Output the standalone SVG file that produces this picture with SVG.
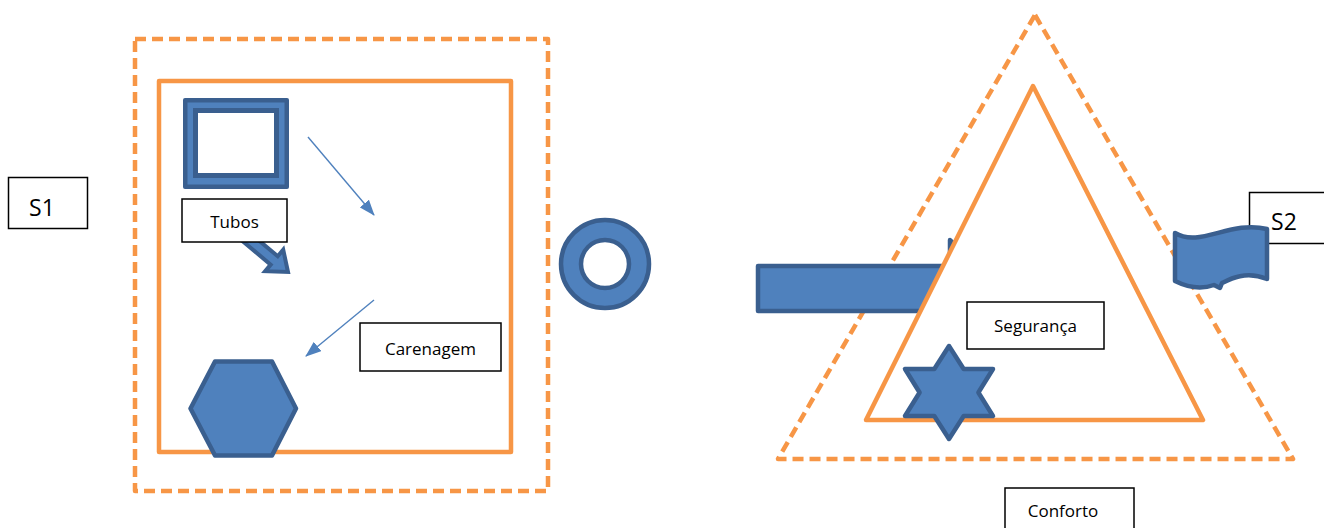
<svg xmlns="http://www.w3.org/2000/svg" width="1324" height="528" viewBox="0 0 1324 528">
<style>
.dash{fill:none;stroke:#F79646;stroke-width:4.5;stroke-dasharray:11 6;stroke-linejoin:round}
.solid{stroke:#F79646;stroke-width:4.5;stroke-linejoin:round}
.blue{fill:#4F81BD;stroke:#3A5F8F;stroke-width:4.5;stroke-linejoin:round}
.lbl{fill:#fff;stroke:#000;stroke-width:1.5}
.t{font-family:"Open Sans","Liberation Sans",sans-serif;font-size:17px;fill:#000;text-anchor:middle}
.big{font-size:23px}
.thin{stroke:#4F81BD;stroke-width:1.4;fill:none}
</style>
<defs>
<marker id="ah" markerUnits="userSpaceOnUse" markerWidth="16" markerHeight="12" refX="15" refY="6" orient="auto">
<path d="M0,0 L16,6 L0,12 Z" fill="#4F81BD"/>
</marker>
</defs>

<g id="S1-area">
<rect class="dash" x="135" y="39" width="413" height="452"/>
<rect class="solid" fill="none" x="159" y="81" width="352" height="371"/>
</g>

<g id="tubos-frame">
<rect x="183" y="98" width="106" height="91" rx="2" fill="#3A5F8F"/>
<rect x="187.5" y="102.5" width="97" height="82" fill="#4F81BD"/>
<rect x="193" y="108" width="86" height="70" fill="#3A5F8F"/>
<rect x="198" y="113" width="76" height="60" fill="#fff"/>
</g>

<g id="tubos-block-arrow">
<polygon transform="translate(288,272) rotate(40)" points="-70,-5.5 -18,-5.5 -18,-14 0,0 -18,14 -18,5.5 -70,5.5" fill="#4F81BD" stroke="#3A5F8F" stroke-width="4" stroke-linejoin="miter"/>
</g>

<g id="tubos">
<rect class="lbl" x="182" y="199" width="105" height="43"/>
<text class="t" x="234.5" y="228">Tubos</text>
</g>

<g id="connectors">
<line class="thin" x1="308" y1="137" x2="374" y2="215" marker-end="url(#ah)"/>
<line class="thin" x1="374" y1="300" x2="306" y2="356" marker-end="url(#ah)"/>
</g>

<g id="carenagem">
<rect class="lbl" x="360" y="323" width="141" height="48"/>
<text class="t" x="430.5" y="355">Carenagem</text>
</g>

<g id="hexagon">
<polygon class="blue" points="190.5,408.5 215,361.5 272,361.5 296,408.5 272,455.5 215,455.5"/>
</g>

<g id="donut">
<path class="blue" fill-rule="evenodd" d="M561,264 a44,44 0 1,0 88,0 a44,44 0 1,0 -88,0 Z M581,264 a24,24 0 1,1 48,0 a24,24 0 1,1 -48,0 Z"/>
</g>

<g id="S1">
<rect class="lbl" x="8.5" y="177.5" width="79" height="51"/>
<text class="t big" x="42" y="216">S1</text>
</g>

<g id="S2-area">
<polygon class="dash" points="1035,15 1293,459 778,459"/>
</g>

<g id="right-block-arrow">
<polygon class="blue" points="758,266 950,266 950,240 1000,288 950,337 950,311 758,311"/>
</g>

<g id="inner-triangle">
<polygon class="solid" fill="#fff" points="1033,86 1203,420 866,420"/>
</g>

<g id="star">
<polygon class="blue" points="949,346 963.7,369 993,369 978.4,392.5 993,416 963.7,416 949,439 934.3,416 905,416 919.6,392.5 905,369 934.3,369"/>
</g>

<g id="seguranca">
<rect class="lbl" x="967" y="302" width="137" height="47"/>
<text class="t" x="1035.5" y="332">Segurança</text>
</g>

<g id="S2">
<rect class="lbl" x="1249.5" y="192.5" width="80" height="51"/>
<text class="t big" x="1284" y="230">S2</text>
</g>

<g id="wave">
<path class="blue" d="M1175,233 C1200,248 1230,220 1267,229 L1267,279 C1245,270 1228,280 1222,283 L1220,288 L1214,285 C1200,290 1185,286 1175,281 Z"/>
</g>

<g id="conforto">
<rect class="lbl" x="1005" y="488" width="129" height="50"/>
<text class="t" x="1063" y="517">Conforto</text>
</g>
</svg>
